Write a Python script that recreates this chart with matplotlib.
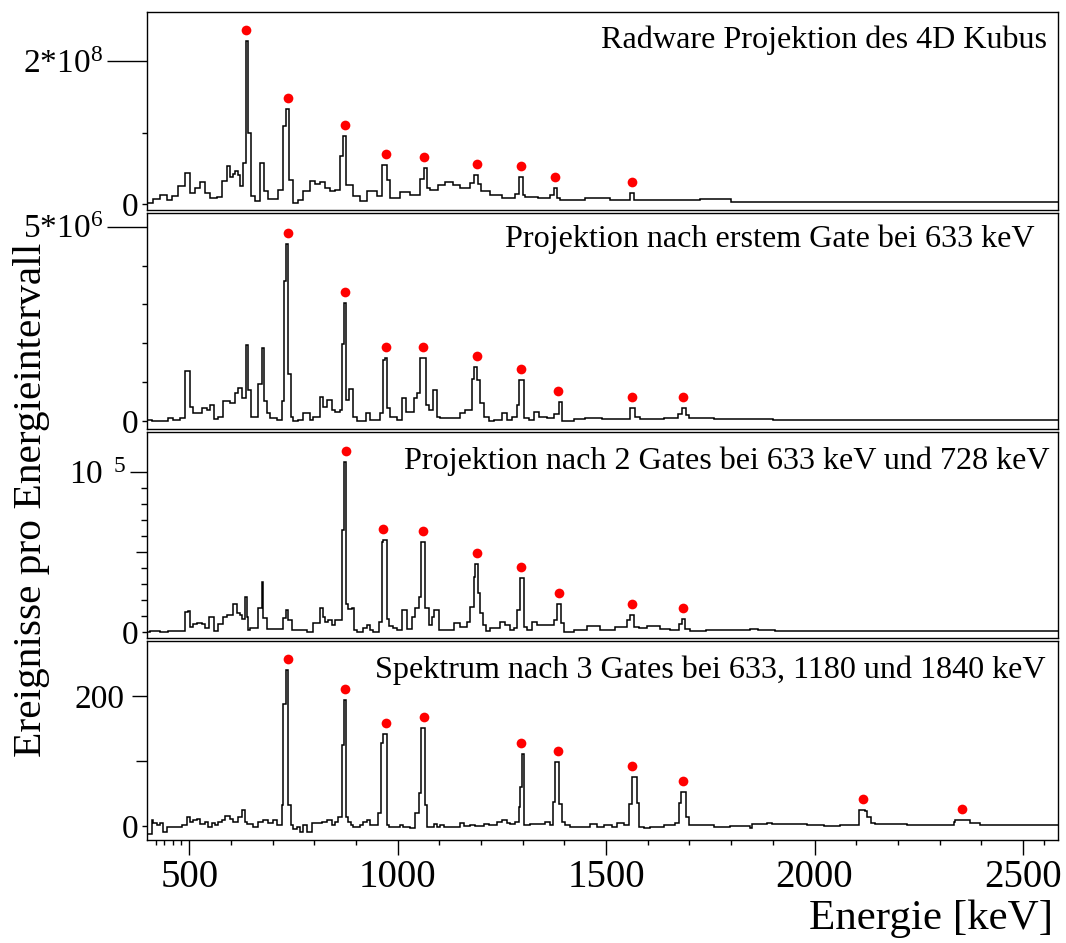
import numpy as np
import matplotlib
matplotlib.use("Agg")
import matplotlib.pyplot as plt
import matplotlib.transforms as mtransforms
from matplotlib.ticker import FixedLocator, FixedFormatter

plt.rcParams['font.family'] = ['Liberation Serif', 'DejaVu Serif']
plt.rcParams['mathtext.fontset'] = 'custom'
plt.rcParams['mathtext.rm'] = 'Liberation Serif'
plt.rcParams['mathtext.it'] = 'Liberation Serif:italic'

# ---------------------------------------------------------------------------
# Spectra: bin edges in keV and counts per bin
# ---------------------------------------------------------------------------
# Radware projection of the 4D cube (counts in units of 1e6)
kubus_edges = [398, 414, 430, 446, 458, 474, 490, 502, 514, 526,
               538, 550, 566, 578, 590, 598, 604, 610, 616, 622,
               628, 636, 642, 648, 658, 670, 680, 690, 714, 726,
               732, 739, 750, 762, 774, 790, 802, 814, 826, 838,
               850, 862, 868, 876, 894, 910, 926, 950, 962, 974,
               982, 1006, 1030, 1054, 1062, 1070, 1078, 1096, 1114, 1132,
               1150, 1174, 1182, 1192, 1200, 1222, 1250, 1282, 1292, 1300,
               1306, 1336, 1366, 1374, 1382, 1390, 1450, 1510, 1558, 1568,
               1640, 1725, 1800, 1870, 2584]
kubus_counts = [1.6, 7, 13, 6, 11, 25, 44, 16, 23, 31,
                16, 9, 10, 32, 53, 38, 42, 46, 40, 25,
                58, 228, 100, 11, 4, 57, 18, 7, 20, 109,
                133, 34, 1, 5, 18, 32, 28, 31, 22, 18,
                20, 67, 95, 27, 11, 4, 18, 11, 55, 34,
                8, 17, 12, 35, 51, 22, 20, 26, 31, 27,
                22, 30, 41, 28, 18, 12, 8, 14, 38, 12,
                10, 8, 12, 23, 8, 6, 8, 5, 16, 6,
                5, 7, 3.5, 2.5]

# Projection after first gate at 633 keV (counts in units of 1e3)
gate1_edges = [398, 410, 450, 462, 478, 490, 502, 510, 530, 542,
               550, 559, 570, 582, 598, 610, 618, 626, 636, 642,
               648, 658, 666, 674, 680, 686, 694, 710, 722, 727,
               731, 738, 743, 750, 762, 774, 790, 798, 814, 822,
               830, 842, 850, 862, 866, 871, 875, 884, 894, 902,
               918, 924, 934, 958, 964, 970, 975, 982, 998, 1010,
               1020, 1038, 1046, 1054, 1060, 1068, 1076, 1084, 1094, 1102,
               1150, 1162, 1178, 1182, 1190, 1198, 1206, 1218, 1230, 1250,
               1262, 1274, 1286, 1291, 1302, 1314, 1326, 1338, 1358, 1374,
               1386, 1394, 1422, 1450, 1490, 1518, 1558, 1570, 1582, 1640,
               1672, 1682, 1692, 1700, 1760, 1900, 2584]
gate1_counts = [26, 10, 85, 15, 68, 1282, 367, 214, 325, 282,
                410, 60, 111, 521, 453, 709, 838, 581, 1949, 795,
                94, 111, 949, 1889, 521, 214, 85, 26, 521, 3615,
                4556, 1222, 111, 0, 26, 197, 26, 111, 624, 367,
                538, 282, 239, 282, 1991, 3034, 538, 812, 111, 10,
                0, 214, 26, 214, 1564, 1632, 325, 111, 26, 581,
                239, 581, 709, 1632, 1632, 410, 282, 795, 111, 68,
                214, 282, 1094, 1393, 1051, 453, 111, 0, 26, 214,
                26, 111, 410, 1068, 68, 26, 239, 111, 68, 179,
                479, 0, 40, 68, 40, 50, 325, 111, 60, 90,
                180, 333, 150, 70, 40, 20]

# Projection after two gates at 633 and 728 keV (counts in units of 1e3)
gate2_edges = [398, 406, 430, 450, 470, 490, 496, 502, 510, 518,
               530, 538, 548, 560, 570, 582, 590, 606, 614, 622,
               626, 634, 638, 642, 646, 666, 674, 678, 686, 726,
               732, 738, 746, 782, 798, 814, 822, 826, 834, 842,
               850, 866, 871, 875, 882, 890, 896, 902, 918, 926,
               934, 942, 956, 962, 966, 974, 980, 988, 998, 1010,
               1022, 1034, 1042, 1050, 1056, 1066, 1074, 1082, 1088, 1098,
               1134, 1150, 1166, 1174, 1182, 1186, 1192, 1198, 1204, 1212,
               1222, 1246, 1258, 1270, 1278, 1286, 1294, 1302, 1310, 1322,
               1334, 1374, 1382, 1392, 1398, 1422, 1454, 1486, 1522, 1550,
               1558, 1568, 1580, 1598, 1630, 1654, 1674, 1682, 1690, 1702,
               1740, 1845, 1865, 1905, 2584]
gate2_counts = [0, 0.3, 0, 0.3, 0.6, 12.5, 13.1, 3.1, 4.8, 5.6,
                4.8, 2.1, 9.4, 0.6, 4.8, 9.4, 10.4, 17.7, 11.5, 10.4,
                7.7, 21.5, 9.4, 1, 2.1, 15.2, 30.9, 8.4, 1.5, 8.4,
                13.5, 7.3, 1, 0, 5.2, 15.2, 9.4, 6.3, 7.3, 4.2,
                7.3, 63.5, 106.3, 17.3, 14, 14.6, 1, 0, 2.1, 4.2,
                1, 0, 6.3, 56.3, 57.7, 7.7, 3.5, 2.1, 1, 13.5,
                1.5, 9.4, 15, 21.5, 56.3, 14.6, 4.2, 9.4, 13.5, 1,
                5.2, 3.1, 6.3, 15.6, 34.4, 42.3, 24, 11.5, 4.2, 0.6,
                2.1, 6.3, 4.2, 1, 2.1, 13.5, 34, 3.1, 1, 6.3,
                4.2, 7.3, 17.3, 5.2, 0, 1, 3.5, 1, 3.3, 7.6,
                10.4, 3.1, 2.1, 3.5, 1.5, 1, 5, 7.9, 1.5, 0.6,
                1, 1.5, 1, 0.4]

# Spectrum after three gates at 633, 1180 and 1840 keV (counts)
gate3_edges = [398, 410, 414, 422, 430, 438, 446, 462, 482, 494,
               502, 510, 518, 526, 538, 546, 554, 562, 570, 578,
               586, 598, 606, 618, 626, 634, 638, 654, 666, 678,
               690, 702, 710, 722, 726, 732, 738, 743, 750, 758,
               766, 774, 782, 794, 806, 818, 830, 842, 850, 858,
               866, 871, 875, 882, 888, 894, 910, 918, 926, 934,
               954, 959, 966, 974, 980, 1006, 1014, 1030, 1042, 1050,
               1055, 1066, 1071, 1086, 1094, 1102, 1110, 1150, 1158, 1174,
               1186, 1206, 1218, 1238, 1250, 1262, 1270, 1282, 1290, 1294,
               1298, 1303, 1318, 1334, 1354, 1366, 1372, 1378, 1388, 1394,
               1402, 1414, 1462, 1478, 1494, 1514, 1526, 1542, 1554, 1562,
               1574, 1580, 1590, 1606, 1638, 1666, 1674, 1680, 1692, 1698,
               1758, 1798, 1846, 1850, 1886, 1898, 1982, 2022, 2062, 2106,
               2120, 2126, 2136, 2144, 2222, 2334, 2338, 2372, 2398, 2584]
gate3_counts = [-12, 9, 5, 1, 5, -9, -1.5, -2.5, 1, 14,
                6, 9, 11, 3, 6, -1.5, 5, 1, 6, 9,
                15, 11, 6, 14, 24, 6, 3, -1.5, 6, 9,
                4.6, 9, 1, 32, 188, 241, 32, 1, -5.6, -1.5,
                -9, 1, -9, 4.6, 3.9, 6, 9, 1, 6, 14,
                124, 194, 14, 6, 1, -1.5, 1, 6, 9, 1,
                19, 127, 141, 1, -1.5, 1, -1.5, -4, 20, 51,
                151, 32, -1.5, 3, -1.5, 1, -1.5, 4.6, -0.5, 1,
                -0.5, 3, 1, 6, 8.8, 4.6, 2.5, 6, 29, 60,
                111, 1, 2.5, 3, 6, 1, 37, 99, 34, 6,
                1, -1.5, 3, -1.5, 1, -1.5, 4.6, 1, 34, 75,
                35, -1.5, -4, -1.5, 1, 4.6, 35, 52, 14, 1,
                -1.5, -0.5, -4, 2.5, 4.6, 2.5, 1, -0.5, 1, 25,
                23, 14, 4.6, 2.5, 0.5, 6, 9, 4.6, 1]

# Gamma lines marked with a red dot in each spectrum (keV)
kubus_lines = [636, 737, 874, 972, 1063, 1190, 1296, 1378, 1562]
gate1_lines = [737, 874, 972, 1061, 1190, 1296, 1385, 1562, 1684]
gate2_lines = [876, 966, 1061, 1190, 1296, 1387, 1562, 1684]
gate3_lines = [737, 874, 972, 1063, 1296, 1385, 1562, 1684, 2116, 2354]

panel_titles = ["Radware Projektion des 4D Kubus",
                "Projektion nach erstem Gate bei 633 keV",
                "Projektion nach 2 Gates bei 633 keV und 728 keV",
                "Spektrum nach 3 Gates bei 633, 1180 und 1840 keV"]
count_units = [1e6, 1e3, 1e3, 1.0]

x_major = [500, 1000, 1500, 2000, 2500]
x_minor = [420, 440, 460, 480, 600, 700, 800, 900, 1100, 1200, 1300, 1400,
           1600, 1700, 1800, 1900, 2100, 2200, 2300, 2400, 2550]

# y ticks: one long labelled tick, shorter ticks, the zero tick labelled
y_long = [[2e8], [5e6], [1e5], [200]]
y_long_labels = [[r"2*$10^{8}$"], [r"5*$10^{6}$"], [r"$10^{\ \ 5}$"], ["200"]]
y_short = [[0, 1e8],
           [0, 1e6, 2e6, 3e6, 4e6],
           [0, 1e4, 2e4, 3e4, 4e4, 5e4, 6e4, 7e4, 8e4, 9e4],
           [0, 100]]

# ---------------------------------------------------------------------------
# Layout and tick styling
W, H = 1066, 943
left_px, right_px = 146.7, 1058
pads_px = [(12, 210), (212.7, 429), (431.7, 638), (640.7, 840)]   # (top, bottom)
ylims = [(-8.4e6, 2.69e8), (-0.205e6, 5.36e6), (-0.39e4, 1.254e5), (-22, 285.7)]
long_len_pt = [28.8, 28.8, 12.0, 10.8]
long_pad_pt = [3.0, 3.0, 2.4, 5.5]
short_len_pt = [[3.6, 3.6],
                [3.6] * 5,
                [3.6, 4.3, 4.3, 4.3, 4.3, 7.7, 4.3, 4.3, 4.3, 4.3],
                [3.6, 7.7]]
title_pos = [(1047, 48), (1035, 247), (1050, 469), (1046, 678)]

fig = plt.figure(figsize=(W / 100, H / 100), dpi=100)

spectra = [(kubus_edges, kubus_counts, kubus_lines),
           (gate1_edges, gate1_counts, gate1_lines),
           (gate2_edges, gate2_counts, gate2_lines),
           (gate3_edges, gate3_counts, gate3_lines)]

for i, (edges, counts, lines) in enumerate(spectra):
    top, bot = pads_px[i]
    ax = fig.add_axes([left_px / W, 1 - bot / H, (right_px - left_px) / W, (bot - top) / H])
    e = np.asarray(edges, float)
    c = np.asarray(counts, float) * count_units[i]
    ax.stairs(c, e, baseline=None, color="black", lw=1.1)

    # red markers above the peak maxima
    dot_tr = mtransforms.offset_copy(ax.transData, fig=fig, x=0, y=11, units="dots")
    for en in lines:
        sel = (e[1:] > en - 7) & (e[:-1] < en + 7)
        ax.plot(en, c[sel].max(), "o", color="#ff0000", ms=7, mec="none",
                transform=dot_tr, clip_on=False, zorder=5)

    ax.set_xlim(398, 2584)
    ax.set_ylim(*ylims[i])
    for s in ax.spines.values():
        s.set_linewidth(1.0)

    ax.yaxis.set_major_locator(FixedLocator(y_long[i]))
    ax.yaxis.set_major_formatter(FixedFormatter(y_long_labels[i]))
    ax.yaxis.set_minor_locator(FixedLocator(y_short[i]))
    ax.yaxis.set_minor_formatter(FixedFormatter(["0"] + [""] * (len(y_short[i]) - 1)))
    ax.tick_params(axis="y", which="major", direction="out", length=long_len_pt[i],
                   width=1.0, labelsize=24, pad=long_pad_pt[i])
    ax.tick_params(axis="y", which="minor", direction="out", length=3.6,
                   width=1.0, labelsize=24, pad=2.5)
    for tk, ln in zip(ax.yaxis.get_minor_ticks(len(y_short[i])), short_len_pt[i]):
        tk.tick1line.set_markersize(ln)

    if i < 3:
        ax.tick_params(axis="x", which="both", bottom=False, labelbottom=False)
    else:
        ax.xaxis.set_major_locator(FixedLocator(x_major))
        ax.xaxis.set_minor_locator(FixedLocator(x_minor))
        ax.tick_params(axis="x", which="major", direction="out", length=10.8,
                       width=1.0, labelsize=28, pad=3)
        ax.tick_params(axis="x", which="minor", direction="out", length=3.6, width=1.0)

    tx, ty = title_pos[i]
    fig.text(tx / W, 1 - ty / H, panel_titles[i], ha="right", va="baseline", fontsize=23.1)

fig.text(32 / W, 1 - 500 / H, "Ereignisse pro Energieintervall", rotation=90,
         ha="center", va="center", fontsize=29.8)
fig.text(1053 / W, 1 - 929 / H, "Energie [keV]", ha="right", va="baseline", fontsize=31)

fig.savefig("out.png", dpi=100)
